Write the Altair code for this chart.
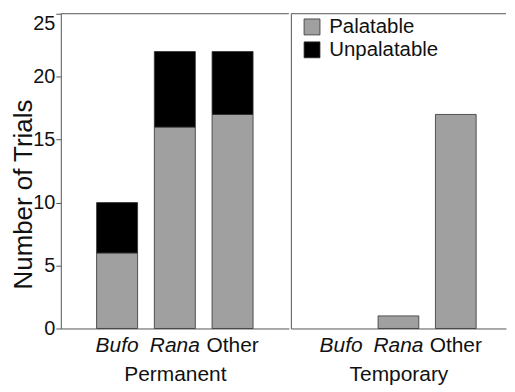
import altair as alt
import pandas as pd

FONT = "Liberation Sans"

species = ["Bufo", "Rana", "Other"]
responses = ["Palatable", "Unpalatable"]
colors = ["#a0a0a0", "#000000"]
y_ticks = [0, 5, 10, 15, 20, 25]

perm_palatable = [6, 16, 17]
perm_unpalatable = [4, 6, 5]
temp_palatable = [0, 1, 17]
temp_unpalatable = [0, 0, 0]

H = 316
W_LEFT = 229
W_RIGHT = 216
AX = "#555555"


def make_df(pal, unpal):
    rows = []
    for s, p, u in zip(species, pal, unpal):
        rows.append({"species": s, "response": responses[0], "trials": p, "order": 0})
        rows.append({"species": s, "response": responses[1], "trials": u, "order": 1})
    return pd.DataFrame(rows)


italic_cond = {"condition": {"test": "datum.value !== 'Other'", "value": "italic"}, "value": "normal"}


def panel(df, title, width, left, outer):
    if left:
        yaxis = alt.Axis(values=y_ticks, title="Number of Trials", grid=False, tickSize=5,
                         tickColor=AX, domainColor=AX, labelPadding=1, labelFontSize=20,
                         labelBaseline={"condition": {"test": "datum.value == 25", "value": "top"}, "value": "middle"},
                         titleX=-50, titleY=181, titleFontSize=26, titleFontWeight="normal",
                         titleBaseline="top")
        legend = None
    else:
        yaxis = alt.Axis(values=y_ticks, title=None, grid=False, labels=False, ticks=False,
                         domainColor=AX)
        legend = alt.Legend(orient="none", legendX=11, legendY=3, title=None,
                            symbolType="square", symbolSize=256, symbolStrokeColor="#333333",
                            symbolStrokeWidth=0.8, labelFontSize=20.5, labelFont=FONT,
                            labelColor="#111111", rowPadding=2, labelOffset=7, padding=0)
    bars = alt.Chart(df).transform_filter("datum.trials > 0").mark_bar(
        stroke="#333333", strokeWidth=0.8
    ).encode(
        x=alt.X("species:N", sort=species, title=title,
                scale=alt.Scale(domain=species, paddingInner=0.29, paddingOuter=outer),
                axis=alt.Axis(labelAngle=0, ticks=False, domainColor=AX, labelPadding=6,
                              labelFontSize=21, titlePadding=8, labelFontStyle=italic_cond,
                              titleFontWeight="normal", titleFontSize=21)),
        y=alt.Y("trials:Q", stack="zero", scale=alt.Scale(domain=[0, 25], nice=False), axis=yaxis),
        color=alt.Color("response:N", scale=alt.Scale(domain=responses, range=colors), legend=legend),
        order=alt.Order("order:Q"),
    )
    top = alt.Chart(pd.DataFrame({"edge": ["top"]})).mark_rule(color=AX, strokeWidth=1).encode(
        x=alt.value(0), x2=alt.value(width), y=alt.value(0)
    )
    return alt.layer(bars, top).properties(width=width, height=H)


left = panel(make_df(perm_palatable, perm_unpalatable), "Permanent", W_LEFT, True, 0.62)
right = panel(make_df(temp_palatable, temp_unpalatable), "Temporary", W_RIGHT, False, 0.52)

chart = alt.hconcat(left, right, spacing=0).resolve_scale(
    color="shared"
).resolve_legend(color="independent").properties(
    padding={"left": 3, "top": 4, "right": 0, "bottom": 0}
).configure_view(stroke=None).configure_axis(
    labelFont=FONT, titleFont=FONT, labelColor="#111111", titleColor="#111111"
)

chart.save("out.html", embed_options={"renderer": "svg", "actions": False})
